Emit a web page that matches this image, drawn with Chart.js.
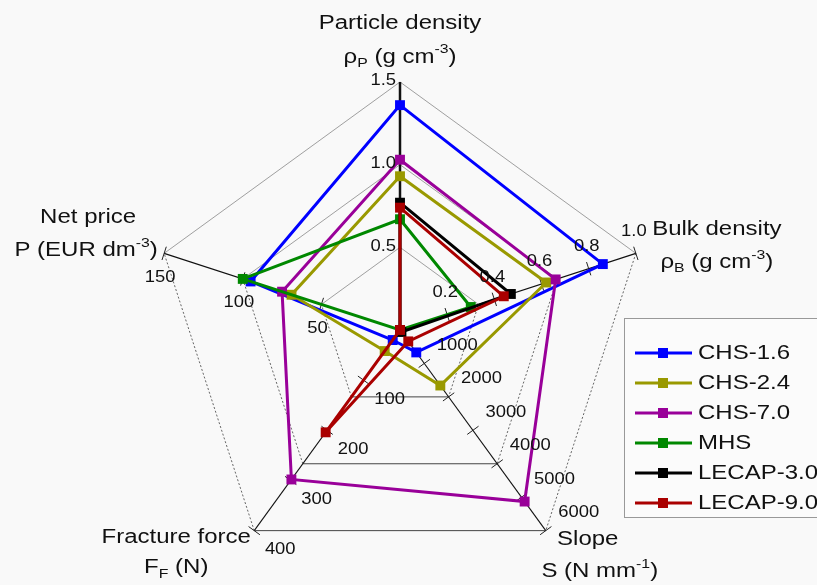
<!DOCTYPE html>
<html>
<head>
<meta charset="utf-8">
<script src="https://cdn.jsdelivr.net/npm/chart.js@4.4.1/dist/chart.umd.min.js"></script>
<style>
  html, body { margin: 0; padding: 0; background: #f9f9f9; }
  canvas { display: block; }
</style>
</head>
<body>
<canvas id="c" width="817" height="585"></canvas>
<script>
// Axes, clockwise from the top
const axisNames = ['Particle density', 'Bulk density', 'Slope', 'Fracture force', 'Net price'];
const axisUnits = [
  [['ρ'], ['P', 'sub'], [' (g cm'], ['-3', 'sup'], [')']],
  [['ρ'], ['B', 'sub'], [' (g cm'], ['-3', 'sup'], [')']],
  [['S (N mm'], ['-1', 'sup'], [')']],
  [['F'], ['F', 'sub'], [' (N)']],
  [['P (EUR dm'], ['-3', 'sup'], [')']]
];
const axisMax = [1.5, 1.0, 6000, 400, 150];
const axisTicks = [
  [0.5, 1.0, 1.5],
  [0.2, 0.4, 0.6, 0.8, 1.0],
  [1000, 2000, 3000, 4000, 5000, 6000],
  [100, 200, 300, 400],
  [50, 100, 150]
];
const axisTickDecimals = [1, 1, 0, 0, 0];

// Series values: [particle density, bulk density, slope, fracture force, net price]
const seriesNames = ['CHS-1.6', 'CHS-2.4', 'CHS-7.0', 'MHS', 'LECAP-3.0', 'LECAP-9.0'];
const chs16   = [1.36, 0.86, 670, 20, 95];
const chs24   = [0.93, 0.62, 1660, 42, 69];
const chs70   = [1.03, 0.66, 5130, 298, 75];
const mhs     = [0.67, 0.30, 0, 0, 100];
const lecap30 = [0.77, 0.47, 60, 0, 0];
const lecap90 = [0.74, 0.44, 340, 204, 0];
const seriesValues = [chs16, chs24, chs70, mhs, lecap30, lecap90];
const seriesColors = ['#0000ff', '#999900', '#990099', '#008800', '#000000', '#aa0000'];

// Grid rings (fraction of each axis) and per-edge line styles
const ringLevels = [1 / 3, 2 / 3, 1];
const edgeStyles = [
  { color: '#888', width: 0.8, dash: [] },
  { color: '#555', width: 0.9, dash: [2, 2] },
  { color: '#444', width: 1, dash: [] },
  { color: '#555', width: 0.9, dash: [2, 2] },
  { color: '#888', width: 0.8, dash: [] }
];

// Label placement relative to the axis end / tick positions
const titleOffsets = [
  [[0, -59], [0, -25]],
  [[81, -24], [81, 9]],
  [[42, 9], [54, 41]],
  [[-78, 7], [-78, 37]],
  [[-76, -36], [-78, -3]]
];
const tickLabelOffsets = [[-4, -1, 'right'], [-2, -22, 'center'], [33, -18, 'center'], [26, 19, 'center'], [-4, 24, 'center']];

const FAMILY = '"Liberation Sans", Arial, Helvetica, sans-serif';

function partFont(p, size) {
  const s = p[1] ? size * 0.66 : size;
  return s.toFixed(1) + 'px ' + FAMILY;
}

// Draws text made of plain / sub / sup parts, stretched horizontally by sx
function richText(ctx, parts, x, y, size, align, sx) {
  let total = 0;
  const widths = parts.map(p => {
    ctx.font = partFont(p, size);
    const w = ctx.measureText(p[0]).width * sx;
    total += w;
    return w;
  });
  let cx = align === 'center' ? x - total / 2 : align === 'right' ? x - total : x;
  ctx.textBaseline = 'middle';
  ctx.textAlign = 'left';
  parts.forEach((p, k) => {
    const dy = p[1] === 'sub' ? size * 0.32 : p[1] === 'sup' ? -size * 0.36 : 0;
    ctx.save();
    ctx.font = partFont(p, size);
    ctx.translate(cx, y + dy);
    ctx.scale(sx, 1);
    ctx.fillText(p[0], 0, 0);
    ctx.restore();
    cx += widths[k];
  });
}

const radarFrame = {
  id: 'radarFrame',
  beforeDatasetsDraw(chart) {
    const r = chart.scales.r;
    const ctx = chart.ctx;
    const n = axisNames.length;
    ctx.save();
    // polygon rings
    ringLevels.forEach(level => {
      const d = r.getDistanceFromCenterForValue(level);
      for (let i = 0; i < n; i++) {
        const a = r.getPointPosition(i, d);
        const b = r.getPointPosition((i + 1) % n, d);
        const st = edgeStyles[i];
        ctx.strokeStyle = st.color;
        ctx.lineWidth = st.width;
        ctx.setLineDash(st.dash);
        ctx.beginPath();
        ctx.moveTo(a.x, a.y);
        ctx.lineTo(b.x, b.y);
        ctx.stroke();
      }
    });
    ctx.setLineDash([]);
    // axis lines
    for (let i = 0; i < n; i++) {
      const end = r.getPointPosition(i, r.drawingArea);
      ctx.strokeStyle = '#111';
      ctx.lineWidth = i === 0 ? 2.5 : 1.1;
      ctx.beginPath();
      ctx.moveTo(r.xCenter, r.yCenter);
      ctx.lineTo(end.x, end.y);
      ctx.stroke();
    }
    // tick marks across the axes
    ctx.strokeStyle = '#222';
    ctx.lineWidth = 1;
    for (let i = 1; i < n; i++) {
      const end = r.getPointPosition(i, r.drawingArea);
      const ux = (end.x - r.xCenter) / r.drawingArea;
      const uy = (end.y - r.yCenter) / r.drawingArea;
      axisTicks[i].forEach(v => {
        const p = r.getPointPosition(i, r.getDistanceFromCenterForValue(v / axisMax[i]));
        ctx.beginPath();
        ctx.moveTo(p.x - uy * 7, p.y + ux * 7);
        ctx.lineTo(p.x + uy * 7, p.y - ux * 7);
        ctx.stroke();
      });
    }
    ctx.restore();
  },
  afterDatasetsDraw(chart) {
    const r = chart.scales.r;
    const ctx = chart.ctx;
    const n = axisNames.length;
    ctx.save();
    ctx.fillStyle = '#111';
    // tick labels
    for (let i = 0; i < n; i++) {
      const [ox, oy, al] = tickLabelOffsets[i];
      axisTicks[i].forEach(v => {
        const p = r.getPointPosition(i, r.getDistanceFromCenterForValue(v / axisMax[i]));
        richText(ctx, [[v.toFixed(axisTickDecimals[i])]], p.x + ox, p.y + oy, 16, al, 1.15);
      });
    }
    // axis titles
    for (let i = 0; i < n; i++) {
      const end = r.getPointPosition(i, r.drawingArea);
      const [o1, o2] = titleOffsets[i];
      richText(ctx, [[axisNames[i]]], end.x + o1[0], end.y + o1[1], 20, 'center', 1.2);
      richText(ctx, axisUnits[i], end.x + o2[0], end.y + o2[1], 20, 'center', 1.2);
    }
    // legend
    const bx = 624.5, by = 318.5;
    ctx.fillStyle = '#fbfbfb';
    ctx.fillRect(bx, by, 230, 199);
    ctx.strokeStyle = '#999';
    ctx.lineWidth = 1;
    ctx.strokeRect(bx, by, 230, 199);
    chart.data.datasets.forEach((ds, k) => {
      const y = 353 + k * 30;
      ctx.strokeStyle = ds.borderColor;
      ctx.lineWidth = 3;
      ctx.beginPath();
      ctx.moveTo(635, y);
      ctx.lineTo(692, y);
      ctx.stroke();
      ctx.fillStyle = ds.borderColor;
      ctx.fillRect(658, y - 5, 10, 10);
      ctx.fillStyle = '#111';
      richText(ctx, [[ds.label]], 698, y, 20, 'left', 1.2);
    });
    ctx.restore();
  }
};

const datasets = seriesNames.map((name, k) => ({
  label: name,
  data: seriesValues[k].map((v, i) => v / axisMax[i]),
  borderColor: seriesColors[k],
  backgroundColor: seriesColors[k],
  pointBackgroundColor: seriesColors[k],
  pointBorderColor: seriesColors[k],
  borderWidth: 3,
  pointStyle: 'rect',
  pointRadius: 7,
  pointBorderWidth: 0,
  fill: false,
  tension: 0,
  order: seriesNames.length - k
}));

new Chart(document.getElementById('c'), {
  type: 'radar',
  data: { labels: axisNames, datasets },
  options: {
    responsive: false,
    animation: false,
    devicePixelRatio: 1,
    layout: { padding: { left: 152, right: 169, top: 82, bottom: 7 } },
    plugins: { legend: { display: false }, tooltip: { enabled: false } },
    scales: {
      r: {
        min: 0,
        max: 1,
        ticks: { display: false, stepSize: 1 / 3 },
        grid: { display: false },
        angleLines: { display: false },
        pointLabels: { display: false }
      }
    }
  },
  plugins: [radarFrame]
});
</script>
</body>
</html>
